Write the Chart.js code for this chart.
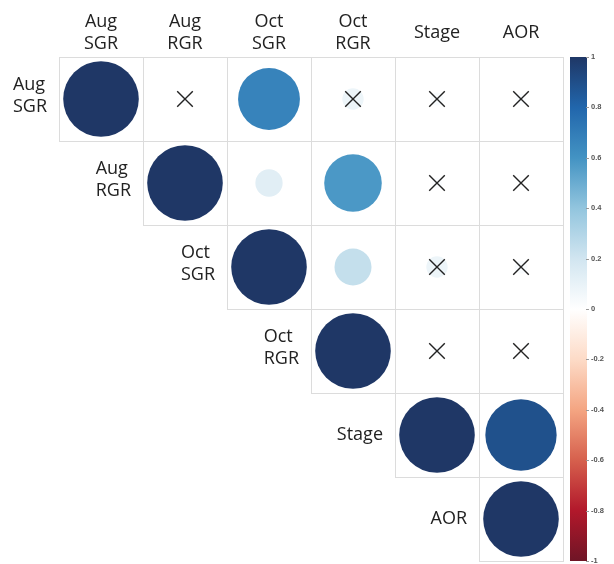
<!DOCTYPE html>
<html><head><meta charset="utf-8">
<script src="https://cdn.jsdelivr.net/npm/chart.js@4.4.1/dist/chart.umd.min.js"></script>
<style>html,body{margin:0;padding:0;background:#fff;} canvas{display:block;}</style>
</head><body>
<canvas id="c" width="614" height="564"></canvas>
<script>
// ---- data ----
const colLabels = [["Aug","SGR"],["Aug","RGR"],["Oct","SGR"],["Oct","RGR"],["Stage"],["AOR"]];
const rowLabels = [["Aug","SGR"],["Aug","RGR"],["Oct","SGR"],["Oct","RGR"],["Stage"],["AOR"]];
const rowAugSGR = [1.00, 0.02, 0.67, 0.08, 0.03, 0.02];
const rowAugRGR = [null, 1.00, 0.13, 0.58, 0.02, 0.01];
const rowOctSGR = [null, null, 1.00, 0.24, 0.08, 0.03];
const rowOctRGR = [null, null, null, 1.00, 0.02, -0.01];
const rowStage  = [null, null, null, null, 1.00, 0.89];
const rowAOR    = [null, null, null, null, null, 1.00];
const corrRows = [rowAugSGR, rowAugRGR, rowOctSGR, rowOctRGR, rowStage, rowAOR];
const notSignificant = [[0,1],[0,3],[0,4],[0,5],[1,4],[1,5],[2,4],[2,5],[3,4],[3,5]];
const colorbarTicks = [-1, -0.8, -0.6, -0.4, -0.2, 0, 0.2, 0.4, 0.6, 0.8, 1];
const paletteColors = ["#6f1526","#B2182B","#D6604D","#F4A582","#FDDBC7","#FFFFFF",
                       "#D1E5F0","#92C5DE","#4393C3","#2166AC","#1f3766"];

// ---- helpers ----
function hexToRgb(h){ const n=parseInt(h.slice(1),16); return [(n>>16)&255,(n>>8)&255,n&255]; }
function colorFor(v){
  const t = Math.max(0, Math.min(1, (v+1)/2)) * (paletteColors.length-1);
  const i = Math.min(paletteColors.length-2, Math.floor(t));
  const f = t - i;
  const a = hexToRgb(paletteColors[i]), b = hexToRgb(paletteColors[i+1]);
  const c = a.map((x,k)=>Math.round(x+(b[k]-x)*f));
  return `rgb(${c[0]},${c[1]},${c[2]})`;
}
const circlePoints = [];
corrRows.forEach((row, r) => row.forEach((v, c) => { if (v !== null) circlePoints.push({x:c, y:r, v:v}); }));
const crossPoints = notSignificant.map(([r,c]) => ({x:c, y:r}));

const FONT = '"Open Sans", "Noto Sans", sans-serif';
const TEXT = '#222222';

const gridPlugin = {
  id: 'cellGrid',
  beforeDatasetsDraw(chart){
    const {ctx, scales:{x, y}} = chart;
    ctx.save();
    ctx.strokeStyle = '#dcdcdc';
    ctx.lineWidth = 1;
    for (let r = 0; r < rowLabels.length; r++) {
      for (let c = r; c < colLabels.length; c++) {
        const x0 = Math.round(x.getPixelForValue(c-0.5))+0.5, x1 = Math.round(x.getPixelForValue(c+0.5))+0.5;
        const y0 = Math.round(y.getPixelForValue(r-0.5))+0.5, y1 = Math.round(y.getPixelForValue(r+0.5))+0.5;
        ctx.strokeRect(x0, y0, x1-x0, y1-y0);
      }
    }
    ctx.restore();
  },
  afterDraw(chart){
    const {ctx, scales:{x, y, cb}} = chart;
    ctx.save();
    // row labels next to diagonal
    ctx.font = `18px ${FONT}`;
    ctx.fillStyle = TEXT;
    ctx.textBaseline = 'middle';
    ctx.textAlign = 'left';
    const L = 22.5;
    rowLabels.forEach((lines, r) => {
      const cellLeft = x.getPixelForValue(r-0.5);
      const cy = y.getPixelForValue(r) - (lines.length > 1 ? 3 : 0);
      const w = Math.max(...lines.map(s => ctx.measureText(s).width));
      const x0 = cellLeft - 12 - w;
      lines.forEach((s, k) => {
        ctx.fillText(s, x0, cy + (k - (lines.length-1)/2) * L);
      });
    });
    // colour bar
    const top = cb.getPixelForValue(1), bot = cb.getPixelForValue(-1);
    const g = ctx.createLinearGradient(0, bot, 0, top);
    paletteColors.forEach((col, i) => g.addColorStop(i/(paletteColors.length-1), col));
    ctx.fillStyle = g;
    ctx.fillRect(570, top, 17, bot-top);
    ctx.strokeStyle = '#999';
    ctx.lineWidth = 1;
    colorbarTicks.forEach(v => {
      const py = Math.round(cb.getPixelForValue(v)) + 0.5;
      ctx.beginPath(); ctx.moveTo(586, py); ctx.lineTo(589, py); ctx.stroke();
    });
    ctx.restore();
  }
};

new Chart(document.getElementById('c'), {
  type: 'scatter',
  data: {
    datasets: [
      { label: 'not significant', data: crossPoints, pointStyle: 'crossRot', pointRadius: 11,
        borderColor: TEXT, borderWidth: 1.4, backgroundColor: 'rgba(0,0,0,0)' },
      { label: 'correlation', data: circlePoints, pointStyle: 'circle', borderWidth: 0,
        pointRadius: ctx => {
          if (!ctx.raw) return 0;
          const s = ctx.chart.scales.x;
          const cell = Math.abs(s.getPixelForValue(1) - s.getPixelForValue(0));
          return 0.45 * cell * Math.sqrt(Math.abs(ctx.raw.v));
        },
        backgroundColor: ctx => ctx.raw ? colorFor(ctx.raw.v) : '#fff' }
    ]
  },
  options: {
    responsive: false,
    animation: false,
    events: [],
    layout: { autoPadding: false, padding: { left: 59, right: 0, top: 0, bottom: 3 } },
    plugins: { legend: { display: false }, tooltip: { enabled: false } },
    scales: {
      x: {
        type: 'linear', position: 'top', min: -0.5, max: 5.5,
        grid: { display: false }, border: { display: false },
        afterBuildTicks: axis => { axis.ticks = colLabels.map((_, i) => ({ value: i })); },
        afterFit: axis => { axis.height = 57; },
        ticks: {
          autoSkip: false, maxRotation: 0, minRotation: 0, crossAlign: 'center', padding: 5,
          color: TEXT, font: { family: FONT, size: 18, lineHeight: 1.25 },
          callback: v => colLabels[v]
        }
      },
      y: { type: 'linear', display: false, reverse: true, min: -0.5, max: 5.5 },
      cb: {
        axis: 'y', type: 'linear', position: 'right', min: -1, max: 1,
        grid: { display: true, drawOnChartArea: false, drawTicks: true, tickLength: 32.5, color: 'rgba(0,0,0,0)' },
        border: { display: false },
        afterBuildTicks: axis => { axis.ticks = colorbarTicks.map(v => ({ value: v })); },
        afterFit: axis => { axis.width = 51; },
        ticks: { autoSkip: false, padding: -4.5, color: '#555', font: { family: '"Liberation Sans", Arial, sans-serif', size: 7.5, weight: 'bold' },
          callback: v => String(v) }
      }
    }
  },
  plugins: [gridPlugin]
});
</script>
</body></html>
